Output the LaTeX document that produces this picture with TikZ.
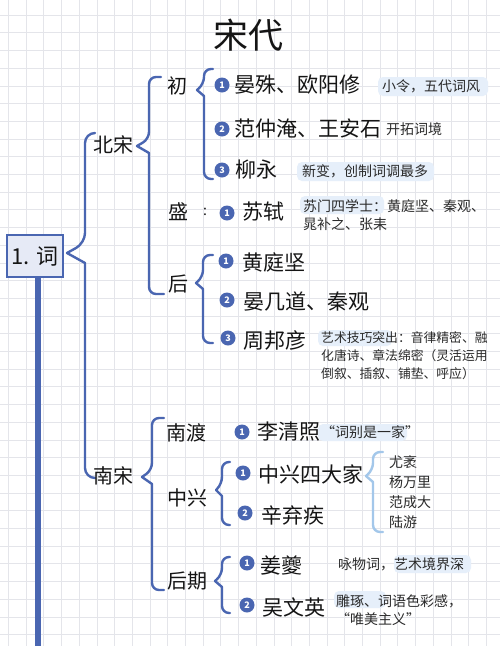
\documentclass[tikz,border=0pt]{standalone}
\usepackage{fontspec}
\setmainfont{Noto Sans CJK SC}
\definecolor{bl}{HTML}{4A66B1}
\definecolor{lb}{HTML}{A3C7EA}
\definecolor{hl}{HTML}{E6EFFA}
\definecolor{gridc}{HTML}{E4E5EA}
\definecolor{boxf}{HTML}{E6EAF6}
\definecolor{ink}{HTML}{151515}
\definecolor{ink2}{HTML}{2A2A2A}
\begin{document}
\begin{tikzpicture}[x=1pt,y=-1pt,
  br/.style={draw=bl,line width=2.4pt,rounded corners=7pt,line cap=round,line join=round},
  lbr/.style={draw=lb,line width=2.4pt,rounded corners=7pt,line cap=round,line join=round},
  nm/.style={anchor=west,inner sep=0pt,font=\fontsize{21}{24}\selectfont,text=ink},
  lv/.style={inner sep=0pt,font=\fontsize{20}{24}\selectfont,text=ink},
  nt/.style={anchor=west,inner sep=0pt,font=\fontsize{14}{18.5}\selectfont,text=ink2,align=left},
  num/.style={circle,fill=bl,text=white,inner sep=0pt,minimum size=15pt,font=\fontsize{9}{9}\selectfont\bfseries},
  hlf/.style={fill=hl,draw=none,rounded corners=5pt}]
\useasboundingbox (0,0) rectangle (500,646);
\fill[white] (0,0) rectangle (500,646);
% grid
\begin{scope}
\clip (0,0) rectangle (500,646);
\foreach \i in {0,...,28} \draw[gridc,line width=0.6pt] (8.3+17.7*\i,0) -- (8.3+17.7*\i,646);
\foreach \j in {0,...,36} \draw[gridc,line width=0.6pt] (0,15+17.7*\j) -- (500,15+17.7*\j);
\end{scope}
% highlights
\fill[hlf] (378,77) rectangle (488,96);
\fill[hlf] (297,162) rectangle (434,181);
\fill[hlf] (300,196) rectangle (384,214);
\fill[hlf] (318,330) rectangle (392,346);
\fill[hlf] (318,424) rectangle (407,441);
\fill[hlf] (394,555) rectangle (471,573);
\fill[hlf] (334,591) rectangle (386,608);
% title
\node[inner sep=0pt,font=\fontsize{35}{40}\selectfont,text=ink] (title) at (248,35) {宋代};
% main box and line
\node[draw=bl,line width=2pt,fill=boxf,minimum width=56pt,minimum height=42pt,inner sep=0pt,font=\fontsize{22}{24}\selectfont,text=ink] (ci) at (35,256) {1. 词};
\coordinate (lineend) at (38,646);
\draw[bl,line width=6pt] (ci.south -| lineend) -- (lineend);
% level-1 brace
\draw[br,rounded corners=10pt] (94,133) -- (85,133) -- (85,243) [sharp corners]-- (67,253) -- (85,263) [rounded corners=10pt]-- (85,478) -- (94,478);
\node[lv] (bs) at (113,145) {北宋};
\node[lv] (ns) at (113,476) {南宋};
% 北宋 brace
\draw[br] (161,77) -- (149,77) -- (149,139) [sharp corners]-- (137,146) -- (149,153) [rounded corners=7pt]-- (149,294) -- (164,294);
\node[lv] (chu) at (177,86) {初};
\node[lv] (sheng) at (178,212) {盛};
\node[lv] (hou) at (178,284) {后};
% 初 brace
\draw[br] (213,69) -- (204,69) -- (204,84) [sharp corners]-- (197,90) -- (204,96) [rounded corners=7pt]-- (204,179) -- (213,179);
\node[num] (c1) at (222,85) {1};
\node[nm] (c1n) at (234,85) {晏殊、欧阳修};
\node[nt] (c1t) at (382,86) {小令，五代词风};
\node[num] (c2) at (222,129) {2};
\node[nm] (c2n) at (234,128) {范仲淹、王安石};
\node[nt] (c2t) at (386,129) {开拓词境};
\node[num] (c3) at (222,170) {3};
\node[nm] (c3n) at (235,170) {柳永};
\node[nt] (c3t) at (302,171) {新变，创制词调最多};
% 盛
\node[inner sep=0pt,font=\fontsize{14}{14}\selectfont,text=ink] (colon) at (205,212) {:};
\node[num] (s1) at (227,213) {1};
\node[nm] (s1n) at (242,212) {苏轼};
\node[nt] (s1t) at (303,215) {苏门四学士：黄庭坚、秦观、\\晁补之、张耒};
% 后 brace
\draw[br] (213,255) -- (203,255) -- (203,277) [sharp corners]-- (196,283) -- (203,289) [rounded corners=7pt]-- (203,343) -- (213,343);
\node[num] (h1) at (226,261) {1};
\node[nm] (h1n) at (242,262) {黄庭坚};
\node[num] (h2) at (227,300) {2};
\node[nm] (h2n) at (243,301) {晏几道、秦观};
\node[num] (h3) at (228,338) {3};
\node[nm] (h3n) at (243,340) {周邦彦};
\node[nt,font=\fontsize{12.8}{18}\selectfont] (h3t) at (321,356) {艺术技巧突出：音律精密、融\\化唐诗、章法绵密（灵活运用\\倒叙、插叙、铺垫、呼应）};
% 南宋 brace
\draw[br] (164,418) -- (152,418) -- (152,470) [sharp corners]-- (142,477) -- (152,484) [rounded corners=7pt]-- (152,590) -- (164,590);
\node[lv,anchor=west] (nd) at (166,433) {南渡};
\node[lv,anchor=west] (zx) at (167,498) {中兴};
\node[lv,anchor=west] (hq) at (167,581) {后期};
% 南渡
\node[num] (n1) at (242,432) {1};
\node[nm] (n1n) at (257,432) {李清照};
\node[nt] (n1t) at (321,432) {“词别是一家”};
% 中兴 brace
\draw[br] (230,462) -- (222,462) -- (222,484) [sharp corners]-- (216,490) -- (222,496) [rounded corners=7pt]-- (222,525) -- (230,525);
\node[num] (z1) at (243,473) {1};
\node[nm] (z1n) at (258,474) {中兴四大家};
\node[num] (z2) at (245,513) {2};
\node[nm] (z2n) at (261,515) {辛弃疾};
% light brace
\draw[lbr] (383,452) -- (373,452) -- (373,470) [sharp corners]-- (366,476) -- (373,482) [rounded corners=7pt]-- (373,532) -- (383,532);
\node[nt] (m1) at (389,462) {尤袤};
\node[nt] (m2) at (389,482) {杨万里};
\node[nt] (m3) at (389,502) {范成大};
\node[nt] (m4) at (389,522) {陆游};
% 后期 brace
\draw[br] (230,557) -- (222,557) -- (222,575) [sharp corners]-- (215,581) -- (222,587) [rounded corners=7pt]-- (222,613) -- (230,613);
\node[num] (q1) at (247,563) {1};
\node[nm] (q1n) at (260,565) {姜夔};
\node[nt] (q1t) at (338,564) {咏物词，艺术境界深};
\node[num] (q2) at (247,605) {2};
\node[nm] (q2n) at (262,607) {吴文英};
\node[nt] (q2t) at (336,610) {雕琢、词语色彩感，\\“唯美主义”};
\end{tikzpicture}
\end{document}
